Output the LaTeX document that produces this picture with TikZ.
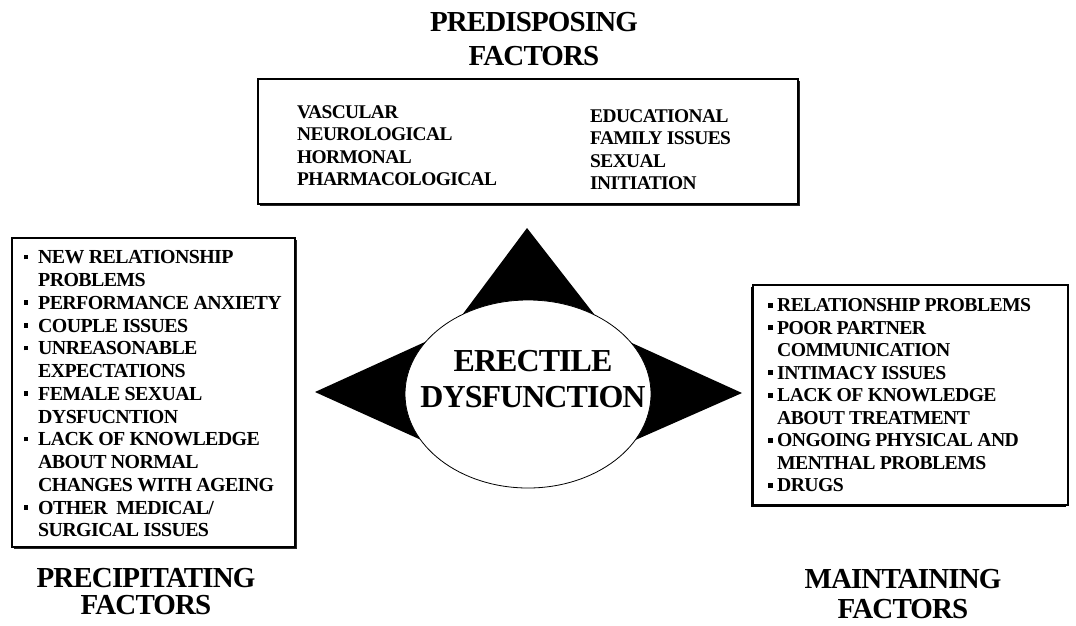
\documentclass[tikz,border=0pt]{standalone}
\usepackage{fontspec}
\setmainfont{Liberation Serif}
\newfontfamily\tightfont[LetterSpace=-3]{Liberation Serif}
\usetikzlibrary{shadows}
\newcommand\bulL{\makebox[0pt][r]{\rule[4.4pt]{4.5pt}{4.5pt}\hspace{10pt}}}
\newcommand\bulR{\makebox[0pt][r]{\rule[4.2pt]{5pt}{5pt}\hspace{4.5pt}}}
\begin{document}
\begin{tikzpicture}[x=1pt,y=-1pt,
  every node/.style={inner sep=0pt},
  titletext/.style={font=\tightfont\bfseries\fontsize{29}{#1}\selectfont, align=center, anchor=north},
  toptext/.style={font=\tightfont\bfseries\fontsize{19.4}{22.3}\selectfont, align=left, anchor=north west},
  lefttext/.style={font=\tightfont\bfseries\fontsize{19.9}{22.75}\selectfont, align=left, anchor=north west},
  righttext/.style={font=\tightfont\bfseries\fontsize{19.7}{22.5}\selectfont, align=left, anchor=north west},
  boxline/.style={draw=black, fill=white, line width=1.4pt},
  shadowSE/.style={drop shadow={shadow xshift=1.5pt, shadow yshift=-1.5pt, fill=black, opacity=0.85}},
  shadowSW/.style={drop shadow={shadow xshift=-2pt, shadow yshift=-2pt, fill=black, opacity=1}},
  spike/.style={fill=black},
  core/.style={draw=black, fill=white, line width=0.8pt}
]
\useasboundingbox (0,0) rectangle (1076,625);

% titles
\node[titletext=34] (tpre) at (534,12.5) {PREDISPOSING\\FACTORS};
\node[titletext=27] (tprc) at (146,568.5) {PRECIPITATING\\FACTORS};
\node[titletext=30] (tmnt) at (903,569) {MAINTAINING\\FACTORS};

% boxes
\path[boxline, shadowSE] (258,79) rectangle (798,204);
\path[boxline, shadowSE, line width=1.8pt] (12,238) rectangle (295,547);
\path[boxline, shadowSW, line width=1.8pt] (753,285) rectangle (1068,505);

% top box text
\node[toptext] (predA) at (297,105.5) {VASCULAR\\NEUROLOGICAL\\HORMONAL\\PHARMACOLOGICAL};
\node[toptext] (predB) at (590,109.5) {EDUCATIONAL\\FAMILY ISSUES\\SEXUAL\\INITIATION};

% left box text
\node[lefttext] (prec) at (38,250.4) {\bulL NEW RELATIONSHIP\\PROBLEMS\\\bulL PERFORMANCE ANXIETY\\\bulL COUPLE ISSUES\\\bulL UNREASONABLE\\EXPECTATIONS\\\bulL FEMALE SEXUAL\\DYSFUCNTION\\\bulL LACK OF KNOWLEDGE\\ABOUT NORMAL\\CHANGES WITH AGEING\\\bulL OTHER\ \ MEDICAL/\\SURGICAL ISSUES};

% right box text
\node[righttext] (mant) at (777,298.5) {\bulR RELATIONSHIP PROBLEMS\\\bulR POOR PARTNER\\COMMUNICATION\\\bulR INTIMACY ISSUES\\\bulR LACK OF KNOWLEDGE\\ABOUT TREATMENT\\\bulR ONGOING PHYSICAL AND\\MENTHAL PROBLEMS\\\bulR DRUGS};

% spikes
\coordinate (apT) at (527,228);
\coordinate (apL) at (315,392);
\coordinate (apR) at (742,393);
\fill[spike] (apT) -- (436,350) -- (622,350) -- cycle;
\fill[spike] (apL) -- (470,321.5) -- (470,462) -- cycle;
\fill[spike] (apR) -- (590,324) -- (590,460) -- cycle;

% central ellipse
\draw[core] (528,394) ellipse [x radius=123, y radius=94];
\coordinate (ed) at (528,394);
\node[font=\tightfont\bfseries\fontsize{32}{36}\selectfont, align=center, anchor=north] (edtext) at (533,350) {ERECTILE\\DYSFUNCTION};
\end{tikzpicture}
\end{document}
